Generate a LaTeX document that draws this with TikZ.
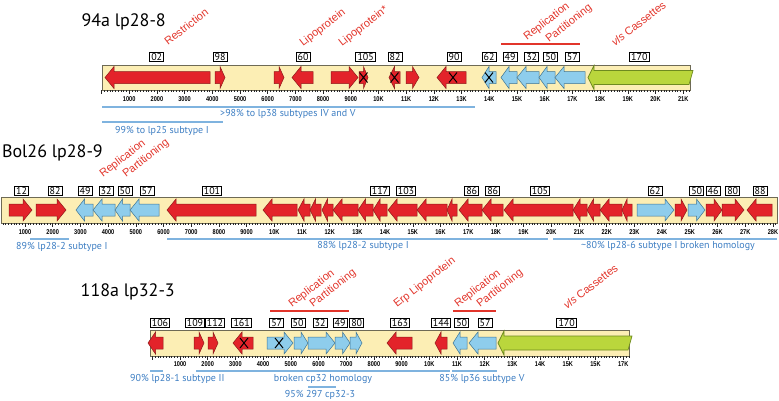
\documentclass[tikz,border=0pt]{standalone}
\usepackage{fontspec}
\setmainfont{PT Sans}
\newfontfamily\funcfont{Liberation Sans}
\newfontfamily\rulerfont[FakeStretch=0.8]{Liberation Sans}

\definecolor{barfill}{HTML}{FCEEB4}
\definecolor{barline}{HTML}{6E6A55}
\definecolor{genered}{HTML}{E3232A}
\definecolor{redline}{HTML}{8E1A1A}
\definecolor{geneblue}{HTML}{8ECDEC}
\definecolor{blueline}{HTML}{3F7492}
\definecolor{vlsgreen}{HTML}{BAD63C}
\definecolor{vlsline}{HTML}{6E8A1F}
\definecolor{labred}{HTML}{E2352B}
\definecolor{homblue}{HTML}{7FB3DF}
\definecolor{homblueT}{HTML}{3C7DC2}

% arrow shaped genes: start, end, centre line, style
\newcommand{\geneR}[4]{%
  \pgfmathsetmacro{\headlen}{min(9,0.5*(#2-#1))}%
  \draw[#4] (#1,{#3-6}) -- ({#2-\headlen},{#3-6}) -- ({#2-\headlen},{#3-11})
    -- (#2,#3) -- ({#2-\headlen},{#3+11}) -- ({#2-\headlen},{#3+6}) -- (#1,{#3+6}) -- cycle;}
\newcommand{\geneL}[4]{%
  \pgfmathsetmacro{\headlen}{min(9,0.5*(#2-#1))}%
  \draw[#4] (#2,{#3-6}) -- ({#1+\headlen},{#3-6}) -- ({#1+\headlen},{#3-11})
    -- (#1,#3) -- ({#1+\headlen},{#3+11}) -- ({#1+\headlen},{#3+6}) -- (#2,{#3+6}) -- cycle;}
% vls cassettes, pointing left
\newcommand{\vlsgene}[3]{%
  \draw[vls] (#1,#3) -- ({#1+6},{#3-12}) -- ({#1+6},{#3-7}) -- ({#2+3},{#3-7})
    -- ({#2-1},{#3+7}) -- ({#1+6},{#3+7}) -- ({#1+6},{#3+12}) -- cycle;}
% disrupted gene
\newcommand{\xmark}[2]{%
  \draw[line width=1pt] ({#1-4},{#2-5}) -- ({#1+4},{#2+5}) ({#1-4},{#2+5}) -- ({#1+4},{#2-5});}
% ticks every 100 bp: origin, bottom of bar, first and last tick
\newcommand{\ruler}[4]{%
  \foreach \i in {#3,...,#4}{%
    \pgfmathsetmacro{\ticklen}{mod(\i,10)==0 ? 3.5 : 2.2}%
    \draw[line width=0.45pt, black!85] ({#1+2.77*\i},#2) -- ++(0,\ticklen);}}

\begin{document}
\begin{tikzpicture}[x=1pt, y=-1pt,
    bar/.style={fill=barfill, draw=barline, line width=1pt},
    redgene/.style={fill=genered, draw=redline, line width=0.5pt},
    bluegene/.style={fill=geneblue, draw=blueline, line width=0.5pt},
    vls/.style={fill=vlsgreen, draw=vlsline, line width=0.7pt},
    numbox/.style={draw, fill=white, line width=0.9pt, inner xsep=1.6pt, inner ysep=0.8pt, font=\fontsize{10}{10}\selectfont},
    kb/.style={font=\rulerfont\bfseries\fontsize{7}{7}\selectfont, inner sep=0},
    func/.style={text=labred, font=\funcfont\fontsize{11}{11}\selectfont, rotate=38, anchor=base west, inner sep=0},
    repline/.style={draw=labred, line width=2.5pt},
    homline/.style={draw=homblue, line width=2.4pt},
    homtext/.style={text=homblueT, font=\fontsize{10}{10}\selectfont, inner sep=0},
    title/.style={font=\fontsize{18}{18}\selectfont, anchor=east, inner sep=0}]
  \useasboundingbox (0,0) rectangle (779,400);

  % 94a lp28-8
  \node[title] (t1) at (166,22) {94a lp28-8};
  \draw[bar] (102,65) rectangle (690,90);
  \ruler{101.5}{90}{0}{212}
  \foreach \n in {1,...,21}
    \node[kb] (ra-\n) at ({101.5+27.7*\n},99) {\ifnum\n<10 \n000\else\n K\fi};
  \foreach \a/\b in {105/210, 292/313, 389/400, 437/466}
    \geneL{\a}{\b}{77.5}{redgene};
  \foreach \a/\b in {215/225, 274/284, 331/358, 359/368, 406/419}
    \geneR{\a}{\b}{77.5}{redgene};
  \foreach \a/\b in {482/496, 501/517, 517/539, 539/555, 555/585}
    \geneL{\a}{\b}{77.5}{bluegene};
  \vlsgene{588}{690}{77.5}
  \foreach \x in {363.5, 394.5, 453, 489}
    \xmark{\x}{77.5}
  \foreach \x/\n [count=\c] in {156.7/02, 220/98, 303/60, 365.7/105, 395/82, 454/90, 489/62,
      510/49, 531.7/32, 550.7/50, 572.3/57, 639.3/170}
    \node[numbox] (ba-\c) at (\x,57) {\n};
  \node[func] (f1) at (168,46) {Restriction};
  \node[func] (f2) at (303,47) {Lipoprotein};
  \node[func] (f3) at (342,47) {Lipoprotein*};
  \node[func] (f4) at (527,41) {Replication};
  \node[func] (f5) at (549,43) {Partitioning};
  \node[func] (f6) at (615,47) {{\itshape vls} Cassettes};
  \draw[repline] (501,44) -- (580,44);
  \draw[homline] (102,107) -- (475,107);
  \node[homtext, anchor=west] (h1) at (220,114) {>98\% to lp38 subtypes IV and V};
  \draw[homline] (102,122) -- (223,122);
  \node[homtext, anchor=west] (h2) at (115,131) {99\% to lp25 subtype I};

  % Bol26 lp28-9
  \node[title] (t2) at (103,153) {Bol26 lp28-9};
  \draw[bar] (1,197) rectangle (777,223);
  \ruler{-2.7}{223}{2}{281}
  \foreach \n in {1,...,28}
    \node[kb] (rb-\n) at ({-2.7+27.7*\n},232) {\ifnum\n<10 \n000\else\n K\fi};
  \foreach \a/\b in {9/32, 36/66, 675/687, 706/722, 722/744}
    \geneR{\a}{\b}{210}{redgene};
  \foreach \a/\b in {637/674, 688/705}
    \geneR{\a}{\b}{210}{bluegene};
  \foreach \a/\b in {76/93, 93/115, 115/130, 130/159}
    \geneL{\a}{\b}{210}{bluegene};
  \foreach \a/\b in {167/256, 263/297, 298/310, 310/321, 322/333, 333/358, 358/373, 373/387,
      388/417, 417/447, 447/457, 459/482, 482/503, 504/573, 573/587, 587/600, 600/622, 622/632, 747/772}
    \geneL{\a}{\b}{210}{redgene};
  \foreach \x/\n [count=\c] in {21.7/12, 55/82, 85/49, 106/32, 125/50, 147/57, 212/101, 380/117,
      406/103, 471.7/86, 492.7/86, 540/105, 655/62, 696.7/50, 713/46, 732.7/80, 760/88}
    \node[numbox] (bb-\c) at (\x,190.7) {\n};
  \node[func] (f7) at (103,178) {Replication};
  \node[func] (f8) at (126,178) {Partitioning};
  \draw[homline] (30,239) -- (69,239);
  \node[homtext, anchor=west] (h3) at (16,247) {89\% lp28-2 subtype I};
  \draw[homline] (167,239) -- (548,239);
  \node[homtext] (h4) at (363,246) {88\% lp28-2 subtype I};
  \draw[homline] (553,239) -- (777,239);
  \node[homtext] (h5) at (668,246) {\textasciitilde80\% lp28-6 subtype I broken homology};

  % 118a lp32-3
  \node[title] (t3) at (175,292) {118a lp32-3};
  \draw[bar] (150,330) rectangle (629,356);
  \ruler{152.3}{356}{0}{172}
  \foreach \n in {1,...,17}
    \node[kb] (rc-\n) at ({152.3+27.7*\n},364) {\ifnum\n<10 \n000\else\ifnum\n=16 15\else\n\fi K\fi};
  \foreach \a/\b in {148/163, 233/253, 387/412, 435/447}
    \geneL{\a}{\b}{343}{redgene};
  \foreach \a/\b in {194/204, 208/218}
    \geneR{\a}{\b}{343}{redgene};
  \foreach \a/\b in {267/293, 294/308, 308/335, 335/350, 350/362}
    \geneR{\a}{\b}{343}{bluegene};
  \foreach \a/\b in {453/467, 469/496}
    \geneL{\a}{\b}{343}{bluegene};
  \vlsgene{498}{629}{343}
  \xmark{244}{343}
  \xmark{279}{343}
  \foreach \x/\n [count=\c] in {160/106, 195/109, 215/112, 241.7/161, 276.7/57, 298/50, 320/32,
      340/49, 356.7/80, 400/163, 441/144, 461.7/50, 485/57, 566.7/170}
    \node[numbox] (bc-\c) at (\x,323.3) {\n};
  \node[func] (f9) at (292,308) {Replication};
  \node[func] (f10) at (313,308) {Partitioning};
  \node[func] (f11) at (397,308) {Erp Lipoprotein};
  \node[func] (f12) at (458,308) {Replication};
  \node[func] (f13) at (480,308) {Partitioning};
  \node[func] (f14) at (567,310) {{\itshape vls} Cassettes};
  \draw[repline] (270,311) -- (349,311);
  \draw[repline] (453,311) -- (496,311);
  \draw[homline] (150,371) -- (163,371);
  \node[homtext, anchor=west] (h6) at (130,379) {90\% lp28-1 subtype II};
  \draw[homline] (196,371) -- (450,371);
  \node[homtext] (h7) at (323,379) {broken cp32 homology};
  \draw[homline] (452,371) -- (497,371);
  \node[homtext] (h8) at (482,379) {85\% lp36 subtype V};
  \draw[homline] (308,387) -- (336,387);
  \node[homtext] (h9) at (320,395) {95\% 297 cp32-3};
\end{tikzpicture}
\end{document}
